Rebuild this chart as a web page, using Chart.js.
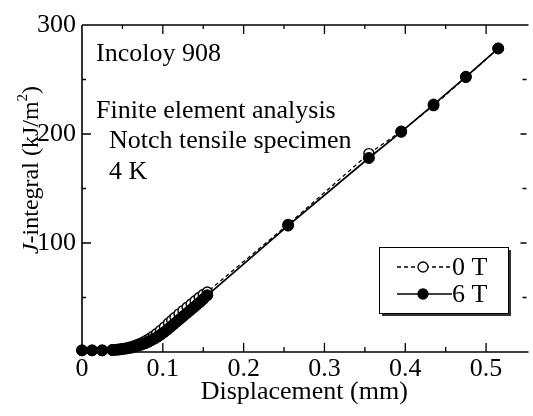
<!DOCTYPE html>
<html><head><meta charset="utf-8">
<script src="https://cdn.jsdelivr.net/npm/chart.js@4/dist/chart.umd.min.js"></script>
<style>html,body{margin:0;padding:0;background:#fff}#wrap{width:533px;height:416px;position:relative}</style>
</head><body><div id="wrap"><canvas id="c"></canvas></div>
<script>
const FONT = '"Liberation Serif", "Times New Roman", serif';

// Series: 6 T (filled circles, solid line)
const disp6T = [0, 0.0125, 0.025, 0.0375, 0.042, 0.046, 0.05, 0.054, 0.058, 0.062, 0.066, 0.07, 0.074, 0.078, 0.082, 0.086, 0.09, 0.094, 0.098, 0.102, 0.106, 0.11, 0.114, 0.118, 0.122, 0.126, 0.13, 0.134, 0.138, 0.142, 0.146, 0.15, 0.155, 0.255, 0.355, 0.395, 0.435, 0.475, 0.515];
const j6T = [1.5, 1.5, 1.5, 1.8, 2, 2.3, 2.7, 3.1, 3.6, 4.2, 5, 5.9, 6.9, 8, 9.3, 10.8, 12.4, 14.2, 16.2, 18.4, 20.8, 23.3, 25.8, 28.3, 30.8, 33.3, 35.8, 38.3, 40.8, 43.3, 45.8, 48.5, 52, 116, 178, 202, 227, 252.5, 278.5];

// Series: 0 T (open circles, dashed line)
const disp0T = [0, 0.0125, 0.025, 0.0375, 0.044, 0.048, 0.052, 0.056, 0.06, 0.064, 0.068, 0.072, 0.076, 0.08, 0.084, 0.088, 0.092, 0.097, 0.102, 0.107, 0.111, 0.115, 0.12, 0.125, 0.13, 0.135, 0.14, 0.145, 0.15, 0.155, 0.255, 0.355, 0.395, 0.435, 0.475, 0.515];
const j0T = [1.5, 1.5, 1.5, 1.8, 2.3, 2.7, 3.2, 3.8, 4.6, 5.5, 6.6, 7.8, 9.2, 10.8, 12.6, 14.6, 16.8, 19.8, 23, 26.5, 29.2, 31.8, 35, 38, 41, 44, 47, 50, 52.8, 55, 117, 182, 202.5, 226, 252, 278.5];

const xTicks = [0, 0.1, 0.2, 0.3, 0.4, 0.5];
const xTickLabels = ['0', '0.1', '0.2', '0.3', '0.4', '0.5'];
const xMinor = [0.05, 0.15, 0.25, 0.35, 0.45];
const yTicks = [0, 100, 200, 300];
const yTickLabels = ['', '100', '200', '300'];
const yMinor = [50, 150, 250];
const seriesLabels = ['0 T', '6 T'];
const noteLines = ['Incoloy 908', 'Finite element analysis', '  Notch tensile specimen', '  4 K'];

const toXY = (xs, ys) => xs.map((x, i) => ({x: x, y: ys[i]}));

const framePlugin = {
  id: 'frame',
  afterDraw(chart) {
    const ctx = chart.ctx, a = chart.chartArea;
    const xs = chart.scales.x, ys = chart.scales.y;
    ctx.save();
    ctx.strokeStyle = '#000';
    ctx.lineWidth = 1.6;
    ctx.beginPath();
    ctx.moveTo(a.left, a.top); ctx.lineTo(a.right + 2, a.top);
    ctx.moveTo(a.left, a.top); ctx.lineTo(a.left, a.bottom);
    ctx.moveTo(a.left, a.bottom); ctx.lineTo(a.right + 2, a.bottom);
    ctx.stroke();
    ctx.lineWidth = 1.3;
    ctx.beginPath();
    xTicks.forEach(v => { const p = xs.getPixelForValue(v); if (v > 0) { ctx.moveTo(p, a.bottom); ctx.lineTo(p, a.bottom - 9); ctx.moveTo(p, a.top); ctx.lineTo(p, a.top + 9); } });
    xMinor.forEach(v => { const p = xs.getPixelForValue(v); ctx.moveTo(p, a.bottom); ctx.lineTo(p, a.bottom - 5); ctx.moveTo(p, a.top); ctx.lineTo(p, a.top + 4); });
    yTicks.forEach(v => { const p = ys.getPixelForValue(v); if (v > 0 && v < 300) { ctx.moveTo(a.left, p); ctx.lineTo(a.left + 9, p); ctx.moveTo(a.right, p); ctx.lineTo(a.right - 6, p); } });
    yMinor.forEach(v => { const p = ys.getPixelForValue(v); ctx.moveTo(a.left, p); ctx.lineTo(a.left + 4, p); ctx.moveTo(a.right, p); ctx.lineTo(a.right - 4, p); });
    ctx.stroke();

    // notes
    ctx.fillStyle = '#000';
    ctx.font = '26px ' + FONT;
    ctx.textAlign = 'left';
    ctx.textBaseline = 'alphabetic';
    const noteY = [61, 118, 148, 179];
    const noteX = [96, 96, 96, 96];
    noteLines.forEach((t, i) => ctx.fillText(t, noteX[i], noteY[i]));

    // y-axis title with italic J and superscript
    ctx.save();
    ctx.translate(38, 170);
    ctx.rotate(-Math.PI / 2);
    const fMain = '24px ' + FONT, fIt = 'italic 24px ' + FONT, fSup = '15px ' + FONT;
    const parts = [['J', fIt, 0], ['-integral (kJ/m', fMain, 0], ['2', fSup, -11], [')', fMain, 0]];
    let total = 0;
    parts.forEach(p => { ctx.font = p[1]; total += ctx.measureText(p[0]).width; });
    let cx = -total / 2;
    parts.forEach(p => { ctx.font = p[1]; ctx.fillText(p[0], cx, p[2]); cx += ctx.measureText(p[0]).width; });
    ctx.restore();

    // legend
    const lx = 379, ly = 247, lw = 129, lh = 66;
    ctx.fillStyle = '#333';
    ctx.fillRect(lx + 3, ly + 3, lw, lh);
    ctx.fillStyle = '#fff';
    ctx.fillRect(lx, ly, lw, lh);
    ctx.strokeStyle = '#000';
    ctx.lineWidth = 1;
    ctx.strokeRect(lx + 0.5, ly + 0.5, lw, lh);
    const rows = [267, 294];
    rows.forEach((ry, i) => {
      ctx.lineWidth = 1.3;
      ctx.setLineDash(i === 0 ? [4, 3] : []);
      ctx.beginPath(); ctx.moveTo(397, ry); ctx.lineTo(452, ry); ctx.stroke();
      ctx.setLineDash([]);
      ctx.beginPath(); ctx.arc(423, ry, 5, 0, Math.PI * 2);
      ctx.fillStyle = i === 0 ? '#fff' : '#000';
      ctx.fill(); ctx.lineWidth = 1.3; ctx.stroke();
      ctx.fillStyle = '#000';
      ctx.font = '26px ' + FONT;
      ctx.textBaseline = 'middle';
      ctx.fillText(seriesLabels[i], 452, ry + 1);
    });
    ctx.restore();
  }
};

new Chart(document.getElementById('c'), {
  type: 'line',
  data: {
    datasets: [
      {
        label: seriesLabels[0], data: toXY(disp0T, j0T), order: 1, clip: false,
        borderColor: '#000', borderWidth: 1.3, borderDash: [4, 3],
        pointRadius: 5, pointBackgroundColor: '#fff', pointBorderColor: '#000', pointBorderWidth: 1.4,
        tension: 0
      },
      {
        label: seriesLabels[1], data: toXY(disp6T, j6T), order: 0, clip: false,
        borderColor: '#000', borderWidth: 1.7,
        pointRadius: 5.5, pointBackgroundColor: '#000', pointBorderColor: '#000', pointBorderWidth: 1,
        tension: 0
      }
    ]
  },
  options: {
    responsive: true, maintainAspectRatio: false, animation: false,
    layout: {padding: {top: 25, right: 0, left: 0, bottom: 0}},
    plugins: {legend: {display: false}, tooltip: {enabled: false}},
    scales: {
      x: {
        type: 'linear', min: 0, max: 0.55,
        afterBuildTicks: s => { s.ticks = xTicks.map(v => ({value: v})); },
        afterFit: s => { s.height = 64; },
        grid: {display: false, drawTicks: false},
        border: {display: false},
        ticks: {color: '#000', font: {family: FONT, size: 26}, padding: 2, maxRotation: 0, autoSkip: false,
          callback: (v, i) => xTickLabels[i]},
        title: {display: true, text: 'Displacement (mm)', color: '#000', font: {family: FONT, size: 26}, padding: {top: 0, bottom: 8}}
      },
      y: {
        type: 'linear', min: 0, max: 300,
        afterBuildTicks: s => { s.ticks = yTicks.map(v => ({value: v})); },
        afterFit: s => { s.width = 82; },
        grid: {display: false, drawTicks: false},
        border: {display: false},
        ticks: {color: '#000', font: {family: FONT, size: 26}, padding: 6, autoSkip: false,
          callback: (v, i) => yTickLabels[i]}
      }
    }
  },
  plugins: [framePlugin]
});
</script>
</body></html>
